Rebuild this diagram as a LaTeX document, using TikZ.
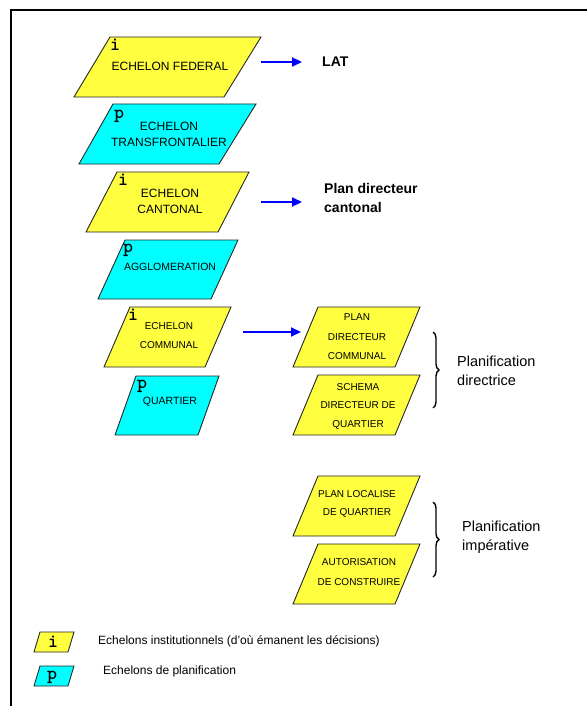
\documentclass[tikz,border=0pt]{standalone}
\usepackage{fontspec}
\setmainfont{Liberation Sans}
\newfontfamily\monob{lmmonolt10-bold.otf}
\usetikzlibrary{arrows.meta,decorations.pathreplacing}
\definecolor{pyellow}{RGB}{255,255,64}
\definecolor{pcyan}{RGB}{0,255,255}
\definecolor{pblue}{RGB}{0,0,255}
\tikzset{
  pgon/.style={draw=black!85, line width=0.9pt, line join=miter},
  yel/.style={pgon, fill=pyellow},
  cya/.style={pgon, fill=pcyan},
  lettr/.style={font=\fontsize{19}{19}\selectfont\monob, inner sep=0pt},
  boxtxt/.style={align=center, inner sep=0pt},
  flowarrow/.style={draw=pblue, line width=2.2pt, -{Triangle[length=10pt,width=9pt]}},
  bracestyle/.style={decorate, decoration={brace, amplitude=6pt}, line width=1.4pt},
}
\begin{document}
\begin{tikzpicture}[x=1pt,y=-1pt]
\useasboundingbox (0,0) rectangle (587,706);
% frame
\draw[line width=2pt] (11,706) -- (11,10) -- (587,10);

% left column
\filldraw[yel] (110,37) -- (261,37) -- (224,97) -- (74,97) -- cycle;
\node[lettr] (l1) at (115,45) {i};
\node[boxtxt, font=\fontsize{12}{16}\selectfont] (t1) at (170,66) {ECHELON FEDERAL};

\filldraw[cya] (113,104) -- (256,104) -- (219,164) -- (79,164) -- cycle;
\node[lettr] (l2) at (119,116) {p};
\node[boxtxt, font=\fontsize{12}{16}\selectfont] (t2) at (169,134) {ECHELON\\TRANSFRONTALIER};

\filldraw[yel] (117,172) -- (249,172) -- (218,232) -- (86,232) -- cycle;
\node[lettr] (l3) at (123,180) {i};
\node[boxtxt, font=\fontsize{12}{16}\selectfont] (t3) at (170,201) {ECHELON\\CANTONAL};

\filldraw[cya] (125,240) -- (238,240) -- (211,299) -- (98,299) -- cycle;
\node[lettr] (l4) at (128,250) {p};
\node[boxtxt, font=\fontsize{10.5}{14}\selectfont] (t4) at (170,267) {AGGLOMERATION};

\filldraw[yel] (130,307) -- (231,307) -- (205,367) -- (104,367) -- cycle;
\node[lettr] (l5) at (133,315) {i};
\node[boxtxt, font=\fontsize{10}{19}\selectfont] (t5) at (169,336) {ECHELON\\COMMUNAL};

\filldraw[cya] (136,376) -- (219,376) -- (198,435) -- (115,435) -- cycle;
\node[lettr] (l6) at (142,386) {p};
\node[boxtxt, font=\fontsize{10.5}{14}\selectfont] (t6) at (170,402) {QUARTIER};

% right column
\filldraw[yel] (318,307) -- (420,307) -- (395,367) -- (293,367) -- cycle;
\node[boxtxt, font=\fontsize{10}{19.5}\selectfont] (r1) at (357,337) {PLAN\\DIRECTEUR\\COMMUNAL};

\filldraw[yel] (318,375) -- (420,375) -- (395,435) -- (293,435) -- cycle;
\node[boxtxt, font=\fontsize{10}{18.5}\selectfont] (r2) at (358,406) {SCHEMA\\DIRECTEUR DE\\QUARTIER};

\filldraw[yel] (318,476) -- (420,476) -- (395,536) -- (293,536) -- cycle;
\node[boxtxt, font=\fontsize{10}{18.5}\selectfont] (r3) at (357,504) {PLAN LOCALISE\\DE QUARTIER};

\filldraw[yel] (318,544) -- (420,544) -- (395,604) -- (293,604) -- cycle;
\node[boxtxt, font=\fontsize{10}{20}\selectfont] (r4) at (359,572) {AUTORISATION\\DE CONSTRUIRE};

% outputs
\node[anchor=west, inner sep=0pt, font=\fontsize{14}{18}\selectfont\bfseries] (lat) at (322,62) {LAT};
\node[anchor=west, inner sep=0pt, align=left, font=\fontsize{14}{19}\selectfont\bfseries] (pdc) at (324,198) {Plan directeur\\cantonal};

% arrows
\coordinate (a1s) at (261,62);
\coordinate (a1e) at (302,62);
\coordinate (a2s) at (261,202);
\coordinate (a2e) at (302,202);
\coordinate (a3s) at (243,332);
\coordinate (a3e) at (301,332);
\draw[flowarrow] (a1s) -- (a1e);
\draw[flowarrow] (a2s) -- (a2e);
\draw[flowarrow] (a3s) -- (a3e);

% braces
\coordinate (b1t) at (433,332);
\coordinate (b1b) at (433,408);
\coordinate (b2t) at (433,502);
\coordinate (b2b) at (433,577);
\draw[bracestyle] (b1t) -- (b1b);
\draw[bracestyle] (b2t) -- (b2b);
\node[anchor=west, inner sep=0pt, align=left, font=\fontsize{14.5}{19}\selectfont] (pd) at (457,371) {Planification\\directrice};
\node[anchor=west, inner sep=0pt, align=left, font=\fontsize{14.5}{19}\selectfont] (pi) at (462,537) {Planification\\impérative};

% legend
\filldraw[yel] (40,632) -- (74,632) -- (68,652) -- (34,652) -- cycle;
\node[lettr] (lgi) at (53,642) {i};
\node[anchor=west, inner sep=0pt, font=\fontsize{12}{14}\selectfont] (lgit) at (98,641) {Echelons institutionnels (d'où émanent les décisions)};
\filldraw[cya] (40,666) -- (74,666) -- (68,686) -- (34,686) -- cycle;
\node[lettr] (lgp) at (52,677) {p};
\node[anchor=west, inner sep=0pt, font=\fontsize{12}{14}\selectfont] (lgpt) at (103,671) {Echelons de planification};
\end{tikzpicture}
\end{document}
